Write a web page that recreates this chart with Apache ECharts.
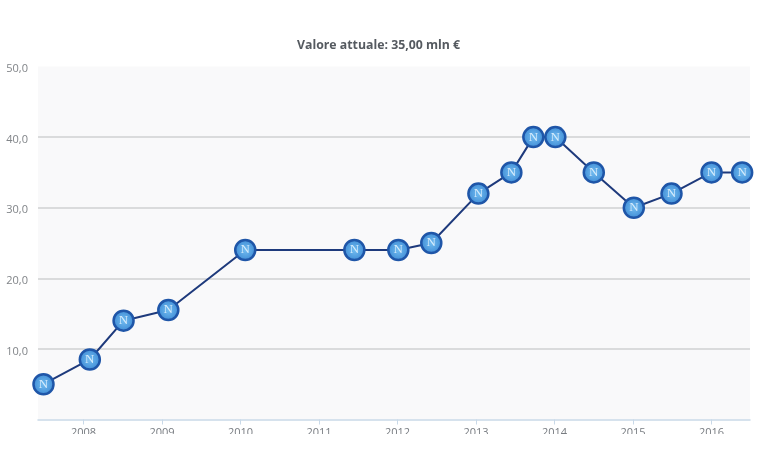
<!DOCTYPE html>
<html>
<head>
<meta charset="utf-8">
<style>html,body{margin:0;padding:0;background:#fff}#chart{width:767px;height:449px}</style>
<script src="https://cdn.jsdelivr.net/npm/echarts@6/dist/echarts.min.js"></script>
</head>
<body>
<div id="chart"></div>
<script>
// Market value history, sampled at each valuation date (decimal year, million euro)
const dates = [2007.49, 2008.08, 2008.51, 2009.08, 2010.06, 2011.45, 2012.01, 2012.43, 2013.03, 2013.45, 2013.73, 2014.01, 2014.50, 2015.01, 2015.49, 2016.00, 2016.39];
const values = [5, 8.5, 14, 15.5, 24, 24, 24, 25, 32, 35, 40, 40, 35, 30, 32, 35, 35];
const years = [2008, 2009, 2010, 2011, 2012, 2013, 2014, 2015, 2016];
const titleText = 'Valore attuale: 35,00 mln €';
const badgeLetter = 'N';

const chart = echarts.init(document.getElementById('chart'), null, { renderer: 'canvas' });
const font = '"Open Sans", "Noto Sans", sans-serif';

chart.setOption({
  animation: false,
  backgroundColor: '#ffffff',
  title: {
    text: titleText, left: 292, top: 34,
    textStyle: { fontFamily: font, fontSize: 12.3, fontWeight: 'bold', color: '#555a60' }
  },
  grid: { left: 38, right: 17, top: 66.5, bottom: 29.5, show: true, backgroundColor: '#f9f9fa', borderWidth: 0 },
  xAxis: {
    type: 'value', min: 2007.42, max: 2016.49,
    splitLine: { show: false },
    axisLine: { show: true, lineStyle: { color: '#c9d9e8', width: 1.5 } },
    axisTick: { show: true, customValues: years, length: 5, lineStyle: { color: '#c9d9e8' } },
    axisLabel: { customValues: years, margin: 8, formatter: v => String(v), fontFamily: font, fontSize: 11, color: '#777b80' }
  },
  yAxis: {
    type: 'value', min: 0, max: 50, interval: 10,
    axisLine: { show: false }, axisTick: { show: false },
    splitLine: { showMinLine: false, showMaxLine: false, lineStyle: { color: '#cfd1d2', width: 1.5 } },
    axisLabel: {
      showMinLabel: false, margin: 10, fontSize: 11, color: '#808488', fontFamily: font,
      // Lower the value labels a little relative to their grid lines
      formatter: v => '{v|' + v.toFixed(1).replace('.', ',') + '}',
      rich: { v: { padding: [5, 0, 0, 0], fontFamily: font, fontSize: 11, color: '#808488' } }
    }
  },
  series: [{
    type: 'line',
    data: dates.map((d, i) => [d, values[i]]),
    clip: false,
    symbol: 'circle', symbolSize: 20,
    lineStyle: { color: '#1e3a7c', width: 2 },
    itemStyle: {
      color: new echarts.graphic.RadialGradient(0.5, 0.5, 0.5, [
        { offset: 0, color: '#72bcf0' }, { offset: 1, color: '#3d8ad4' }
      ]),
      borderColor: '#1f56a8', borderWidth: 2.5, opacity: 1
    },
    label: {
      show: true, position: 'inside', formatter: badgeLetter,
      fontFamily: '"Liberation Serif", serif', fontSize: 13, color: '#d6ecfc'
    }
  }],
  graphic: [{
    // Strip along the bottom edge of the page
    type: 'rect', z: 100, silent: true,
    shape: { x: 0, y: 434, width: 767, height: 15 },
    style: { fill: '#ffffff' }
  }]
});
</script>
</body>
</html>
